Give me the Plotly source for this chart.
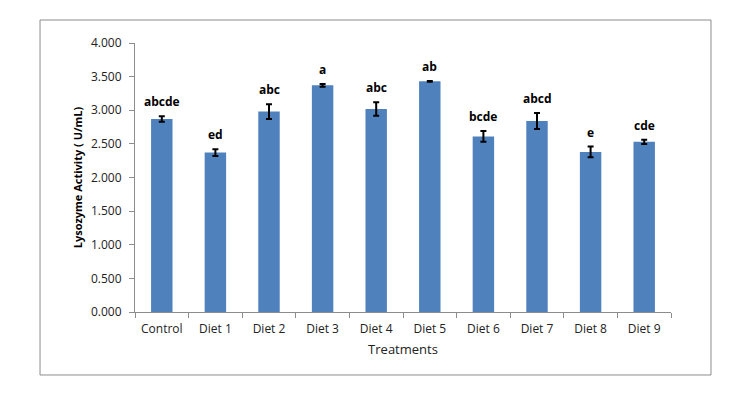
import plotly.graph_objects as go

categories = ["Control", "Diet 1", "Diet 2", "Diet 3", "Diet 4", "Diet 5", "Diet 6", "Diet 7", "Diet 8", "Diet 9"]
values = [2.87, 2.37, 2.98, 3.37, 3.02, 3.43, 2.61, 2.84, 2.38, 2.53]
errors = [0.04, 0.05, 0.11, 0.02, 0.10, 0.006, 0.08, 0.12, 0.08, 0.03]
letters = ["abcde", "ed", "abc", "a", "abc", "ab", "bcde", "abcd", "e", "cde"]
y_ticks = [0, 0.5, 1.0, 1.5, 2.0, 2.5, 3.0, 3.5, 4.0]

FONT = "Open Sans, Liberation Sans, sans-serif"

fig = go.Figure()
fig.add_trace(go.Bar(
    x=categories, y=values,
    marker=dict(color="#4F81BD", line=dict(width=0)),
    width=0.4,
    error_y=dict(type="data", array=errors, visible=True, color="black", thickness=2, width=3),
))

for c, v, e, t in zip(categories, values, errors, letters):
    fig.add_annotation(x=c, y=v + e, text="<b>" + t + "</b>", showarrow=False,
                       yanchor="bottom", yshift=4, font=dict(family=FONT, size=12, color="black"))

fig.add_shape(type="rect", xref="paper", yref="paper",
              x0=-0.1772, x1=1.0746, y0=-0.2342, y1=1.0855,
              line=dict(color="#8C8C8C", width=1))

fig.update_layout(
    width=737, height=395,
    margin=dict(l=127, r=74, t=35, b=91),
    paper_bgcolor="white", plot_bgcolor="white",
    showlegend=False,
    font=dict(family=FONT, size=12, color="#222"),
    bargap=0.6,
)
fig.update_xaxes(
    showline=True, linecolor="#8C8C8C", linewidth=1,
    ticks="outside", tickson="boundaries", ticklen=5, tickcolor="#8C8C8C",
    ticklabelstandoff=6,
    tickfont=dict(family=FONT, size=12, color="#222"),
    title=dict(text="Treatments", font=dict(family=FONT, size=13, color="#222"), standoff=8),
    showgrid=False,
)
fig.update_yaxes(
    range=[0, 4.0], tickvals=y_ticks, tickformat=".3f",
    showline=True, linecolor="#8C8C8C", linewidth=1,
    ticks="outside", ticklen=5, tickcolor="#8C8C8C",
    ticklabelstandoff=5,
    tickfont=dict(family=FONT, size=12, color="#222"),
    title=dict(text="<b>Lysozyme Activity ( U/mL)</b>", font=dict(family=FONT, size=11, color="black"), standoff=6),
    showgrid=False, zeroline=False,
)

fig.write_html("out.html")
